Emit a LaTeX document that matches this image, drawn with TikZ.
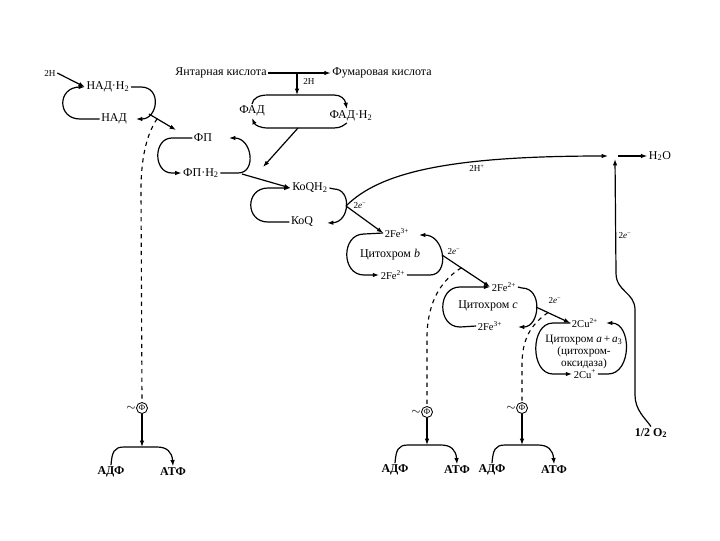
\documentclass[tikz,border=0pt]{standalone}
\usepackage{fontspec}
\setmainfont{Liberation Serif}
\usetikzlibrary{arrows.meta, positioning}

\begin{document}
\begin{tikzpicture}[
    x=0.025cm, y=-0.025cm,
    lbl/.style={inner sep=1pt, font=\fontsize{8.5}{9}\selectfont},
    sml/.style={inner sep=1pt, font=\fontsize{6.5}{7}\selectfont},
    fe/.style={inner sep=1pt, font=\fontsize{7.5}{8}\selectfont},
    conn/.style={line width=0.85pt},
    arrow/.style={-{Latex[length=4.5pt, width=3.2pt]}, line width=0.85pt},
    elec/.style={dashed, line width=0.8pt},
    pcirc/.style={circle, draw, line width=0.6pt, inner sep=0.6pt, font=\fontsize{6}{6}\selectfont}
]
\path[fill=white, use as bounding box] (0,0) rectangle (720,540);

% NAD
\node[sml] (h2a) at (50,73) {2H};
\node[lbl] (nadh) at (108,87) {НАД·Н\textsubscript{2}};
\node[lbl] (nad) at (114,119) {НАД};
\coordinate (nadr) at (136,119);
\coordinate (nadx) at (149,114);
\coordinate (fpin) at (176,130);
\draw[arrow] (h2a.east) -- (nadh.west);
\draw[arrow] (nad.west) -- (80,119) .. controls (57,119) and (57,87) .. (80,87) -- (nadh.west);
\draw[arrow] (nadh.east) -- (141,87) .. controls (162,87) and (158,119) .. (nadr);
\draw[arrow] (nadx) -- coordinate[pos=0.3] (d1) (fpin);

% FAD
\node[lbl] (suc) at (221,73) {Янтарная кислота};
\node[lbl] (fum) at (382,73) {Фумаровая кислота};
\node[sml] (h2b) at (309,81) {2H};
\node[lbl] (fad) at (252,111) {ФАД};
\node[lbl] (fadh) at (351,116) {ФАД·Н\textsubscript{2}};
\coordinate (sj) at (297,73);
\coordinate (ftop) at (297,95);
\coordinate (fadx) at (298,128);
\coordinate (fpr) at (263,167);
\draw[arrow] (suc.east) -- (fum.west);
\draw[arrow] (sj) -- (ftop);
\draw[arrow] (fad.north) .. controls (253,98) and (259,95) .. (268,95) -- (334,95) .. controls (341,95) and (345,99) .. ([xshift=-3pt]fadh.north);
\draw[arrow] ([xshift=-3pt]fadh.south) .. controls (344,125) and (341,128) .. (334,128) -- (268,128) .. controls (260,128) and (255,125) .. (fad.south);
\draw[arrow] (fadx) -- (fpr);

% FP
\node[lbl] (fp) at (203,138) {ФП};
\node[lbl] (fph) at (201,173) {ФП·Н\textsubscript{2}};
\coordinate (fpa) at (229,138);
\coordinate (fpx) at (242,174);
\draw[arrow] (fp.west) -- (172,138) .. controls (153,138) and (153,173) .. (172,173) -- (fph.west);
\draw[arrow] (fph.east) -- (238,173) .. controls (257,173) and (252,138) .. (fpa);

% KoQ
\node[lbl] (kqh) at (310,188) {КоQН\textsubscript{2}};
\node[lbl] (koq) at (302,222) {КоQ};
\coordinate (kqa) at (327,223);
\coordinate (kqx) at (346,206);
\draw[arrow] (fpx) -- (kqh.west);
\draw[arrow] (koq.west) -- (268,222) .. controls (245,222) and (245,188) .. (268,188) -- (kqh.west);
\draw[arrow] (kqh.east) -- (334,189) .. controls (352,189) and (350,222) .. (kqa);

% cytochrome b
\node[fe] (cb3) at (397,233) {2Fe\textsuperscript{3+}};
\node[lbl] (cbn) at (390,255) {Цитохром \textit{b}};
\node[fe] (cb2) at (393,275) {2Fe\textsuperscript{2+}};
\coordinate (cba) at (419,235);
\coordinate (cbx) at (442,255);
\draw[arrow] (kqx) -- (cb3.west);
\node[sml] (e1) at (360,206) {2\textit{e}\textsuperscript{−}};
\draw[arrow] (cb3.west) -- (364,234) .. controls (341,234) and (341,275) .. (364,275) -- (cb2.west);
\draw[arrow] (cb2.east) -- (430,275) .. controls (450,275) and (445,235) .. (cba);

% cytochrome c
\node[fe] (cc2) at (504,287) {2Fe\textsuperscript{2+}};
\node[lbl] (ccn) at (488,306) {Цитохром \textit{с}};
\node[fe] (cc3) at (490,326) {2Fe\textsuperscript{3+}};
\coordinate (cca) at (518,327);
\coordinate (ccx) at (536,307);
\draw[arrow] (cbx) -- coordinate[pos=0.4] (d2) (cc2.west);
\node[sml] (e2) at (454,252) {2\textit{e}\textsuperscript{−}};
\draw[arrow] (cc3.west) -- (460,327) .. controls (437,327) and (437,287) .. (460,287) -- (cc2.west);
\draw[arrow] (cc2.east) -- (522,288) .. controls (543,288) and (540,327) .. (cca);

% cytochrome a+a3
\node[fe] (ca2) at (585,323) {2Cu\textsuperscript{2+}};
\node[lbl, align=center, font=\fontsize{8}{7.2}\selectfont] (can) at (584,352) {Цитохром \textit{a}\,+\,\textit{a}\textsubscript{3}\\(цитохром-\\оксидаза)};
\node[fe] (ca1) at (585,374) {2Cu\textsuperscript{+}};
\coordinate (caa) at (606,323);
\draw[arrow] (ccx) -- coordinate[pos=0.35] (d3) (ca2.west);
\node[sml] (e3) at (555,301) {2\textit{e}\textsuperscript{−}};
\draw[arrow] (ca2.west) -- (553,323) .. controls (530,323) and (530,374) .. (553,374) -- (ca1.west);
\draw[arrow] (ca1.east) -- (608,374) .. controls (632,374) and (632,323) .. (caa);

% oxygen -> water
\node[lbl] (o2) at (651,433) {\textbf{1/2 O\textsubscript{2}}};
\node[lbl] (h2o) at (660,156) {Н\textsubscript{2}О};
\node[sml] (h2p) at (477,168) {2Н\textsuperscript{+}};
\node[sml] (e4) at (625,236) {2\textit{e}\textsuperscript{−}};
\coordinate (jl) at (608,156);
\coordinate (jb) at (615,159);
\coordinate (jr) at (618,156);
\draw[arrow] (kqx) .. controls (380,172) and (450,156) .. (jl);
\draw[arrow] (o2.north) .. controls (645,418) and (635,410) .. (635,395) -- (635,310) .. controls (635,292) and (616,292) .. (616,273) -- (jb);
\draw[arrow] (jr) -- (h2o.west);

% phosphorylation sites
\node[pcirc] (p1) at (142,408) {Ф};
\node[lbl, left=-1pt of p1] (t1) {$\sim$};
\node[lbl] (adp1) at (111,472) {\textbf{АДФ}};
\node[lbl] (atp1) at (173,472) {\textbf{АТФ}};
\coordinate (m1) at (142,447);
\draw[elec] (d1) .. controls (146,135) and (141,160) .. (141,190) -- (p1.north);
\draw[arrow] (p1.south) -- (m1);
\draw[arrow] (adp1.north) .. controls (112,452) and (114,447) .. (124,447) -- (157,447) .. controls (167,447) and (172,452) .. (atp1.north);

\node[pcirc] (p2) at (427,412) {Ф};
\node[lbl, left=-1pt of p2] (t2) {$\sim$};
\node[lbl] (adp2) at (395,470) {\textbf{АДФ}};
\node[lbl] (atp2) at (457,470) {\textbf{АТФ}};
\coordinate (m2) at (427,445);
\draw[elec] (d2) .. controls (442,280) and (428,300) .. (427,335) -- (p2.north);
\draw[arrow] (p2.south) -- (m2);
\draw[arrow] (adp2.north) .. controls (396,450) and (398,445) .. (408,445) -- (441,445) .. controls (451,445) and (456,450) .. (atp2.north);

\node[pcirc] (p3) at (522,408) {Ф};
\node[lbl, left=-1pt of p3] (t3) {$\sim$};
\node[lbl] (adp3) at (492,470) {\textbf{АДФ}};
\node[lbl] (atp3) at (554,470) {\textbf{АТФ}};
\coordinate (m3) at (522,445);
\draw[elec] (d3) .. controls (530,325) and (522,340) .. (522,365) -- (p3.north);
\draw[arrow] (p3.south) -- (m3);
\draw[arrow] (adp3.north) .. controls (493,450) and (495,445) .. (505,445) -- (538,445) .. controls (548,445) and (553,450) .. (atp3.north);

\end{tikzpicture}
\end{document}
